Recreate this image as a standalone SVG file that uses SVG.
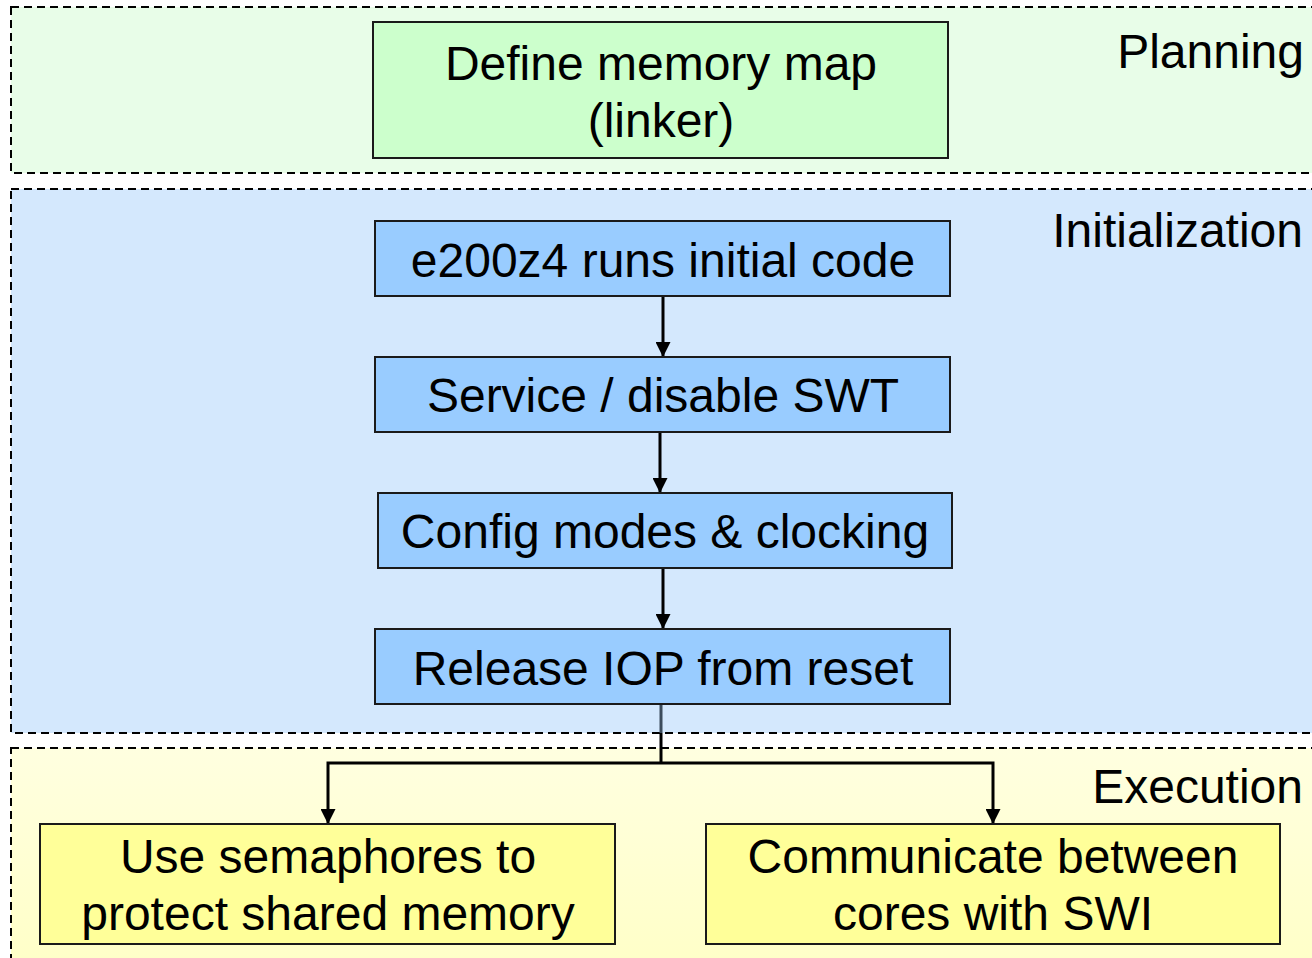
<svg xmlns="http://www.w3.org/2000/svg" width="1312" height="958" viewBox="0 0 1312 958">
  <defs>
    <linearGradient id="execFill" x1="0" y1="0" x2="0" y2="1">
      <stop offset="0" stop-color="#ffffe0"/>
      <stop offset="1" stop-color="#ffffc6"/>
    </linearGradient>
    <marker id="arrow" viewBox="0 0 10 10" refX="10" refY="5" markerWidth="15" markerHeight="15" markerUnits="userSpaceOnUse" orient="auto">
      <path d="M0,0 L10,5 L0,10 Z" fill="#000"/>
    </marker>
  </defs>
  <style>
    .band { stroke: #000; stroke-width: 2; stroke-dasharray: 8 5; }
    .box { stroke: #1a1a1a; stroke-width: 2; }
    .green { fill: #ccffcc; }
    .blue { fill: #99ccff; }
    .yellow { fill: #ffff99; }
    text { font-family: "Liberation Sans", Arial, sans-serif; font-size: 48px; fill: #000; }
    .ctr { text-anchor: middle; }
    .lbl { text-anchor: end; }
    .wire { fill: none; stroke: #000; stroke-width: 3; }
    .wire.faded { stroke: #3c4c5c; }
  </style>

  <rect width="1312" height="958" fill="#fff"/>

  <!-- phase bands -->
  <g id="band-planning">
    <rect class="band" x="11" y="7" width="1320" height="166" fill="#e8fde8"/>
    <text class="lbl" x="1304" y="68">Planning</text>
  </g>
  <g id="band-initialization">
    <rect class="band" x="11" y="189" width="1320" height="544" fill="#d4e8fd"/>
    <text class="lbl" x="1303" y="247">Initialization</text>
  </g>
  <g id="band-execution">
    <rect class="band" x="11" y="748" width="1320" height="230" fill="url(#execFill)"/>
    <text class="lbl" x="1303" y="803">Execution</text>
  </g>

  <!-- connectors -->
  <g id="connectors">
    <path class="wire" d="M663,296 V357" marker-end="url(#arrow)"/>
    <path class="wire" d="M660,432 V493" marker-end="url(#arrow)"/>
    <path class="wire" d="M663,568 V629" marker-end="url(#arrow)"/>
    <path class="wire faded" d="M661,705 V733"/>
    <path class="wire" d="M661,733 V763"/>
    <path class="wire" d="M661,763 H328 V824" marker-end="url(#arrow)"/>
    <path class="wire" d="M661,763 H993 V824" marker-end="url(#arrow)"/>
  </g>

  <!-- nodes -->
  <g id="node-memory-map">
    <rect class="box green" x="373" y="22" width="575" height="136"/>
    <text class="ctr" x="661" y="80">Define memory map</text>
    <text class="ctr" x="661" y="137">(linker)</text>
  </g>
  <g id="node-initial-code">
    <rect class="box blue" x="375" y="221" width="575" height="75"/>
    <text class="ctr" x="663" y="277">e200z4 runs initial code</text>
  </g>
  <g id="node-swt">
    <rect class="box blue" x="375" y="357" width="575" height="75"/>
    <text class="ctr" x="663" y="412">Service / disable SWT</text>
  </g>
  <g id="node-clocking">
    <rect class="box blue" x="378" y="493" width="574" height="75"/>
    <text class="ctr" x="665" y="548">Config modes &amp; clocking</text>
  </g>
  <g id="node-release-iop">
    <rect class="box blue" x="375" y="629" width="575" height="75"/>
    <text class="ctr" x="663" y="685">Release IOP from reset</text>
  </g>
  <g id="node-semaphores">
    <rect class="box yellow" x="40" y="824" width="575" height="120"/>
    <text class="ctr" x="328" y="873">Use semaphores to</text>
    <text class="ctr" x="328" y="930">protect shared memory</text>
  </g>
  <g id="node-swi">
    <rect class="box yellow" x="706" y="824" width="574" height="120"/>
    <text class="ctr" x="993" y="873">Communicate between</text>
    <text class="ctr" x="993" y="930">cores with SWI</text>
  </g>
</svg>
